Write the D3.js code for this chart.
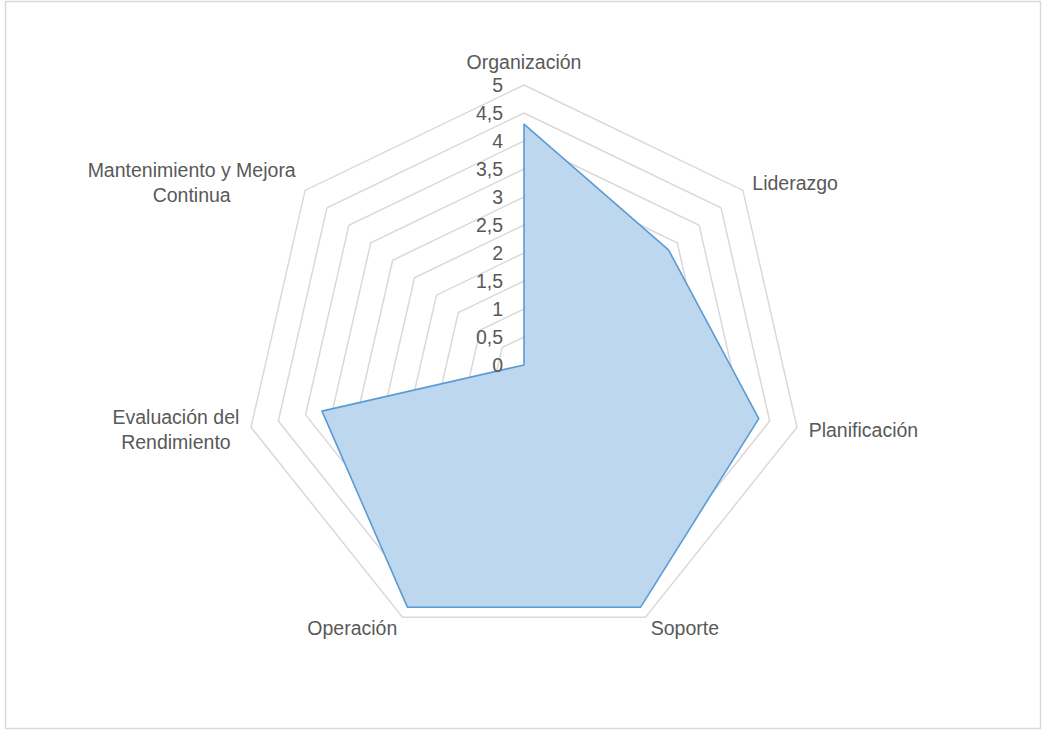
<!DOCTYPE html>
<html lang="es">
<head>
<meta charset="utf-8">
<title>Radar</title>
<script src="https://d3js.org/d3.v7.min.js"></script>
<style>
  body { margin: 0; background: #fff; }
  text { font-family: "Liberation Sans", Arial, sans-serif; fill: #595959; }
</style>
</head>
<body>
<script>
// data
var categories = ["Organización", "Liderazgo", "Planificación", "Soporte", "Operación", "Evaluación del Rendimiento", "Mantenimiento y Mejora Continua"];
var labelLines = [["Organización"], ["Liderazgo"], ["Planificación"], ["Soporte"], ["Operación"], ["Evaluación del", "Rendimiento"], ["Mantenimiento y Mejora", "Continua"]];
var values = [4.3, 3.3, 4.3, 4.8, 4.8, 3.7, 0];
var ticks = [0, 0.5, 1, 1.5, 2, 2.5, 3, 3.5, 4, 4.5, 5];
var tickLabels = ["0", "0,5", "1", "1,5", "2", "2,5", "3", "3,5", "4", "4,5", "5"];

var W = 1043, H = 731;
var cx = 524, cy = 365, R = 280;
var fs = 19.5;

var svg = d3.select("body").append("svg").attr("width", W).attr("height", H);

svg.append("rect")
  .attr("x", 5.5).attr("y", 1.5).attr("width", 1035).attr("height", 727)
  .attr("fill", "#fff").attr("stroke", "#d9d9d9").attr("stroke-width", 1.5);

var r = d3.scaleLinear().domain([0, 5]).range([0, R]);
var n = categories.length;
var ang = function(i) { return i * 2 * Math.PI / n; };

var g = svg.append("g").attr("transform", "translate(" + cx + "," + cy + ")");

var radial = d3.lineRadial()
  .angle(function(d, i) { return ang(i); })
  .radius(function(d) { return r(d); })
  .curve(d3.curveLinearClosed);

// rings
g.selectAll(".ring")
  .data(ticks.filter(function(t) { return t > 0; }))
  .enter().append("path")
  .attr("class", "ring")
  .attr("d", function(t) { return radial(categories.map(function() { return t; })); })
  .attr("fill", "none").attr("stroke", "#d9d9d9").attr("stroke-width", 1.5);

// series
g.append("path")
  .datum(values)
  .attr("d", radial)
  .attr("fill", "#bdd7ee")
  .attr("stroke", "#5b9bd5")
  .attr("stroke-width", 1.6)
  .attr("stroke-linejoin", "round");

// tick labels
g.selectAll(".tick")
  .data(ticks)
  .enter().append("text")
  .attr("x", -21)
  .attr("y", function(t) { return -r(t); })
  .attr("dy", "0.35em")
  .attr("text-anchor", "end")
  .style("font-size", fs + "px")
  .text(function(t, i) { return tickLabels[i]; });

// category labels
var lh = 25;
categories.forEach(function(c, i) {
  var a = ang(i);
  var sx = Math.sin(a), sy = -Math.cos(a);
  var px = (R + 12) * sx, py = (R + 12) * sy;
  var lines = labelLines[i];
  if (Math.abs(sx) < 0.1) py += sy * 11;
  var t = g.append("text").style("font-size", fs + "px");
  var spans = t.selectAll("tspan").data(lines).enter().append("tspan")
    .text(function(d) { return d; });
  var widths = [];
  spans.each(function() { widths.push(this.getComputedTextLength()); });
  var maxW = d3.max(widths);
  var mid;
  if (Math.abs(sx) < 0.1) mid = px;
  else if (sx > 0) mid = px + maxW / 2;
  else mid = px - maxW / 2;
  var y0 = py - (lines.length - 1) * lh / 2;
  spans.attr("x", mid)
    .attr("y", function(d, k) { return y0 + k * lh; })
    .attr("dy", "0.35em")
    .attr("text-anchor", "middle");
});
</script>
</body>
</html>
